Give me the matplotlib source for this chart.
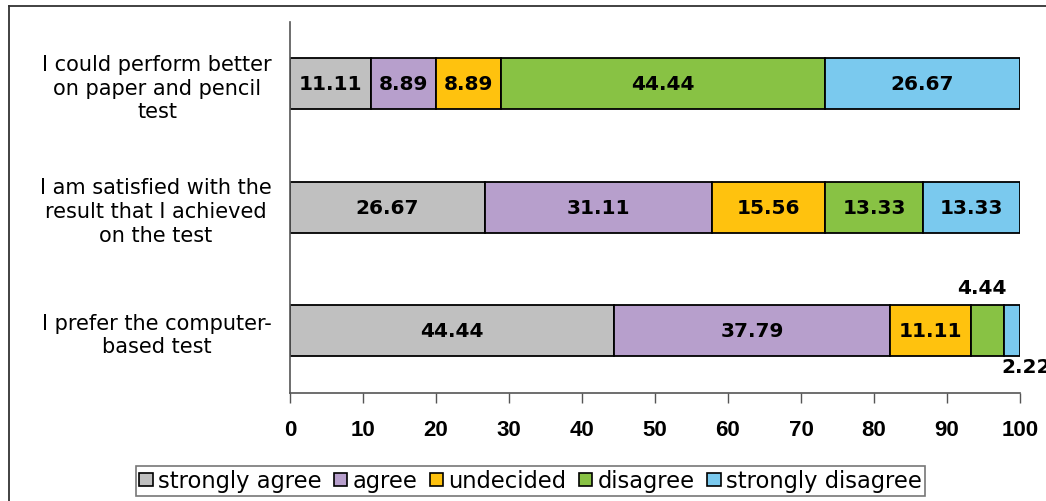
import numpy as np
import matplotlib
matplotlib.use('Agg')
import matplotlib.pyplot as plt
from matplotlib.lines import Line2D

# ---- data ----
questions = ['I could perform better\non paper and pencil\ntest',
             'I am satisfied with the\nresult that I achieved\non the test',
             'I prefer the computer-\nbased test']
answers = ['strongly agree', 'agree', 'undecided', 'disagree', 'strongly disagree']
strongly_agree = [11.11, 26.67, 44.44]
agree = [8.89, 31.11, 37.79]
undecided = [8.89, 15.56, 11.11]
disagree = [44.44, 13.33, 4.44]
strongly_disagree = [26.67, 13.33, 2.22]
colors = ['#C0C0C0', '#B79FCC', '#FFC20E', '#88C244', '#7AC9EE']
xticks = [0, 10, 20, 30, 40, 50, 60, 70, 80, 90, 100]

series = [strongly_agree, agree, undecided, disagree, strongly_disagree]

fig = plt.figure(figsize=(10.46, 5.02), dpi=100)
ax = fig.add_axes([0.2772, 0.2161, 0.6979, 0.7381])

ypos = np.arange(len(questions))
left = np.zeros(len(questions))
small = []
for vals, col, name in zip(series, colors, answers):
    vals = np.array(vals)
    ax.barh(ypos, vals, left=left, height=0.41, color=col, edgecolor='black',
            linewidth=1.3, label=name)
    for i, v in enumerate(vals):
        cx = left[i] + v / 2
        if v >= 5:
            ax.text(cx, ypos[i], '%.2f' % v, ha='center', va='center',
                    fontsize=14.5, fontweight='bold', family='DejaVu Sans')
        else:
            small.append((i, left[i], v))
    left = left + vals

# small segments: first label above the bar, the next one below
for k, (i, l, v) in enumerate(small):
    if k % 2 == 0:
        ax.annotate('%.2f' % v, xy=(l + v / 2, ypos[i] - 0.205), xytext=(-4, 13),
                    textcoords='offset points', ha='center', va='center',
                    fontsize=14.5, fontweight='bold', family='DejaVu Sans')
    else:
        ax.annotate('%.2f' % v, xy=(l, ypos[i] + 0.205), xytext=(-1.5, -7.5),
                    textcoords='offset points', ha='left', va='center',
                    fontsize=14.5, fontweight='bold', family='DejaVu Sans',
                    annotation_clip=False)

ax.set_xlim(0, 100)
ax.set_ylim(len(questions) - 0.5, -0.5)
ax.set_xticks(xticks)
ax.set_xticklabels([str(t) for t in xticks], fontsize=16, fontweight='bold',
                   family='Liberation Sans')
ax.set_yticks(ypos)
ax.set_yticklabels(questions, fontsize=15, family='DejaVu Sans',
                   multialignment='center', linespacing=1.22)
ax.tick_params(axis='x', length=7, width=1, color='#555555', pad=12)
ax.tick_params(axis='y', length=0, pad=13)
ax.spines['top'].set_visible(False)
ax.spines['right'].set_visible(False)
for s in ['left', 'bottom']:
    ax.spines[s].set_color('#555555')
    ax.spines[s].set_linewidth(1.2)

leg = fig.legend(loc='center', bbox_to_anchor=(0.507, 0.04), ncol=5,
                 frameon=True, fancybox=False, handlelength=0.6, handleheight=0.55,
                 handletextpad=0.22, columnspacing=0.55, borderpad=0.15,
                 prop={'family': 'DejaVu Sans', 'size': 16.3})
leg.get_frame().set_edgecolor('#555555')
leg.get_frame().set_linewidth(1.2)
for h in leg.legend_handles:
    h.set_linewidth(1.2)

# outer chart border
fig.add_artist(Line2D([9 / 1046, 9 / 1046], [0, 1 - 7 / 502], color='#333333', lw=1.3))
fig.add_artist(Line2D([9 / 1046, 1], [1 - 7 / 502, 1 - 7 / 502], color='#333333', lw=1.3))

fig.savefig('out.png', dpi=100)
